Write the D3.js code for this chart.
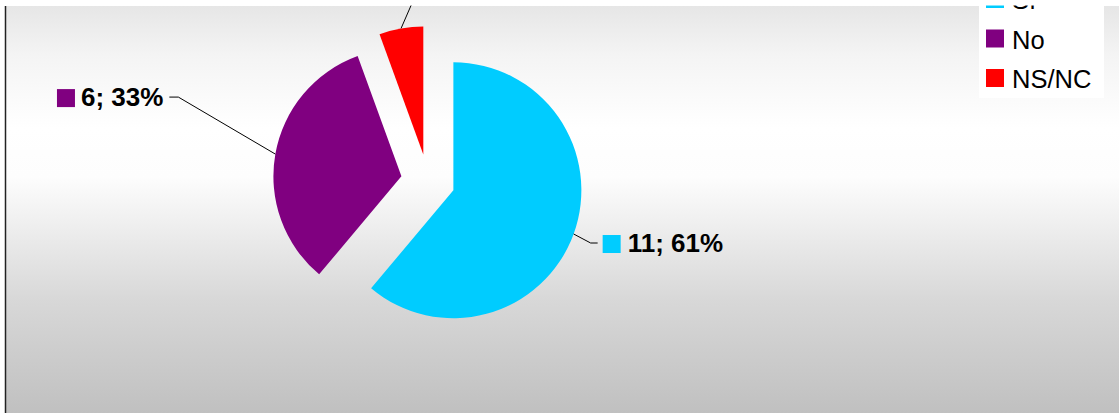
<!DOCTYPE html>
<html><head><meta charset="utf-8">
<script src="https://cdn.jsdelivr.net/npm/d3@7"></script>
<style>html,body{margin:0;padding:0;background:#fff;}svg{display:block;}</style>
</head><body>
<svg id="c" width="1119" height="413"></svg>
<script>
const categories = ["Sí", "No", "NS/NC"];
const values = [11, 6, 1];
const percents = ["61%", "33%", "6%"];
const colors = ["#00CCFF", "#800080", "#FF0000"];

const W = 1119, H = 413;
const svg = d3.select("#c");
const defs = svg.append("defs");
const grad = defs.append("linearGradient").attr("id","bg").attr("x1",0).attr("y1",0).attr("x2",0).attr("y2",1);
[[0,"#e6e6e6"],[0.12,"#f4f4f4"],[0.3,"#ffffff"],[0.42,"#fdfdfd"],[0.72,"#d8d8d8"],[1,"#c0c0c0"]]
  .forEach(([o,c])=>grad.append("stop").attr("offset",o).attr("stop-color",c));

svg.append("rect").attr("x",5).attr("y",6).attr("width",W-5).attr("height",H-6).attr("fill","url(#bg)");
svg.append("line").attr("x1",5.5).attr("x2",5.5).attr("y1",6).attr("y2",H).attr("stroke","#222").attr("stroke-width",1.5);

const cx = 428, cy = 181, R = 128, explode = 27;
const pie = d3.pie().sort(null).value(d=>d)(values);
const arc = d3.arc().innerRadius(0).outerRadius(R);
const g = svg.append("g").attr("transform",`translate(${cx},${cy})`);

function dir(a){ return [Math.sin(a), -Math.cos(a)]; }

pie.forEach((p,i)=>{
  const mid = (p.startAngle+p.endAngle)/2;
  const [dx,dy] = dir(mid);
  g.append("path").attr("d",arc(p)).attr("fill",colors[i])
    .attr("transform",`translate(${dx*explode},${dy*explode})`);
});

// labels with leader lines
const lab = svg.append("g");
const labelFont = "bold 26px 'Liberation Sans', Arial, sans-serif";
// elbow offsets relative to outer point (layout)
const elbows = [[17,9,"right"],[-97,-57,"left"],[20,-46,"right"]];
pie.forEach((p,i)=>{
  const mid = (p.startAngle+p.endAngle)/2;
  const [dx,dy] = dir(mid);
  const ox = cx + dx*(explode+R), oy = cy + dy*(explode+R);
  const [ex,ey,side] = elbows[i];
  const x1 = ox+ex, y1 = oy+ey;
  const x2 = side==="right" ? x1+7 : x1-9;
  lab.append("path").attr("d",`M${ox},${oy}L${x1},${y1}L${x2},${y1}`)
    .attr("fill","none").attr("stroke","#000").attr("stroke-width",1);
  const txt = `${values[i]}; ${percents[i]}`;
  const t = lab.append("text").attr("y",y1+9).style("font",labelFont).attr("fill","#000").text(txt);
  const tw = t.node().getComputedTextLength();
  let sx, tx;
  if(side==="right"){ sx = x2+5; tx = sx+25; }
  else { tx = x2-6-tw; sx = tx-24; }
  t.attr("x",tx);
  lab.append("rect").attr("x",sx).attr("y",y1-8).attr("width",18).attr("height",18).attr("fill",colors[i]);
});

// legend
const leg = svg.append("g");
leg.append("rect").attr("x",979).attr("y",-40).attr("width",125).attr("height",138).attr("fill","#fff");
categories.forEach((c,i)=>{
  const y = 9 + i*39.5;
  leg.append("rect").attr("x",986).attr("y",y-19).attr("width",18).attr("height",18).attr("fill",colors[i]);
  leg.append("text").attr("x",1012).attr("y",y).style("font","25.5px 'Liberation Sans', Arial, sans-serif").attr("fill","#000").text(c);
});

// top white strip (cropped area)
svg.append("rect").attr("x",0).attr("y",0).attr("width",W).attr("height",5.5).attr("fill","#fff");
</script>
</body></html>
